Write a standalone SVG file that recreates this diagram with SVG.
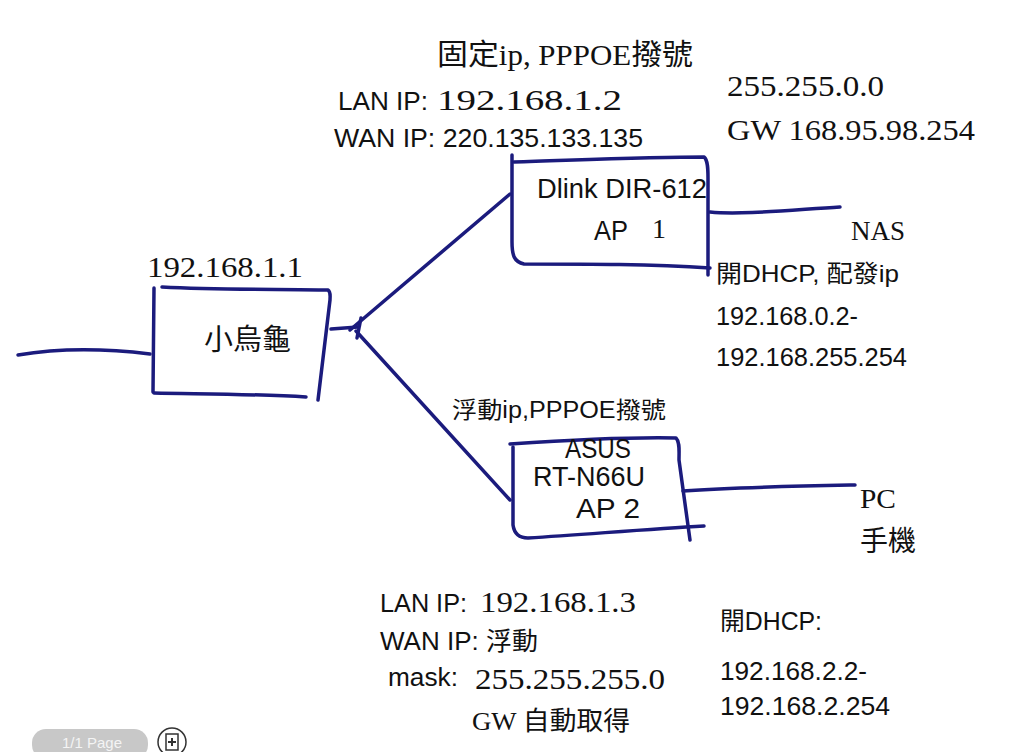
<svg xmlns="http://www.w3.org/2000/svg" width="1024" height="752" viewBox="0 0 1024 752">
<style>
.ink{fill:none;stroke:#1b1b7d;stroke-width:3.5;stroke-linecap:round;stroke-linejoin:round}
.serif{font-family:"Liberation Serif","Noto Sans CJK TC",serif;fill:#111}
.sans{font-family:"Liberation Sans","Noto Sans CJK TC",sans-serif;fill:#111}
.cjk{font-family:"Noto Sans CJK TC",sans-serif;fill:#111}
</style>
<rect width="1024" height="752" fill="#ffffff"/>

<g id="connectors">
<path class="ink" d="M18,355 C60,348 100,348 150,354"/>
<path class="ink" d="M331,329 L358,327"/>
<path class="ink" d="M350,330 L510,194"/>
<path class="ink" d="M356,331 L510,500"/>
<path class="ink" d="M361,318 L357,338"/>
<path class="ink" d="M710,212 C740,215 790,210 840,207"/>
<path class="ink" d="M683,491 C740,487 800,486 855,485"/>
</g>

<g id="router">
<path class="ink" d="M154,288 L153,392"/>
<path class="ink" d="M162,287 C220,290 280,289 328,290 C331,292 330,296 330,300 L318,400"/>
<path class="ink" d="M154,393 C200,394 260,394 306,397"/>
<text class="serif" x="147" y="277" font-size="29" textLength="156" lengthAdjust="spacingAndGlyphs">192.168.1.1</text>
<text class="cjk" x="204" y="350" font-size="29">小烏龜</text>
</g>

<g id="ap1">
<path class="ink" d="M512,155 L512,242 C512,255 514,262 524,264 C590,264 650,264 710,268"/>
<path class="ink" d="M514,162 C580,160 650,157 704,157 C708,160 708,170 708,178 L708,275"/>
<text class="sans" x="537" y="198" font-size="27" textLength="170" lengthAdjust="spacingAndGlyphs">Dlink DIR-612</text>
<text class="sans" x="594" y="240" font-size="27" textLength="34" lengthAdjust="spacingAndGlyphs">AP</text>
<text class="serif" x="652" y="238" font-size="28">1</text>
</g>

<g id="ap2">
<path class="ink" d="M510,444 C570,440 630,437 676,438 C680,442 679,450 679,460 L690,540"/>
<path class="ink" d="M513,447 L513,525 C514,532 518,538 528,538 C590,534 650,529 704,526"/>
<text class="sans" x="565" y="458" font-size="27" textLength="66" lengthAdjust="spacingAndGlyphs">ASUS</text>
<text class="sans" x="533" y="486" font-size="27" textLength="112" lengthAdjust="spacingAndGlyphs">RT-N66U</text>
<text class="sans" x="576" y="518" font-size="27" textLength="64" lengthAdjust="spacingAndGlyphs">AP  2</text>
</g>

<g id="labels">
<text class="serif" x="437" y="65" font-size="29" textLength="256" lengthAdjust="spacingAndGlyphs">固定ip, PPPOE撥號</text>
<text class="sans" x="338" y="110" font-size="26" textLength="90" lengthAdjust="spacingAndGlyphs">LAN IP:</text>
<text class="serif" x="437" y="110" font-size="29" textLength="185" lengthAdjust="spacingAndGlyphs">192.168.1.2</text>
<text class="sans" x="334" y="147" font-size="26" textLength="309" lengthAdjust="spacingAndGlyphs">WAN IP: 220.135.133.135</text>
<text class="serif" x="727" y="96" font-size="29" textLength="157" lengthAdjust="spacingAndGlyphs">255.255.0.0</text>
<text class="serif" x="727" y="140" font-size="29" textLength="248" lengthAdjust="spacingAndGlyphs">GW 168.95.98.254</text>
<text class="serif" x="851" y="240" font-size="28" textLength="54" lengthAdjust="spacingAndGlyphs">NAS</text>
<text class="sans" x="716" y="282" font-size="24" textLength="183" lengthAdjust="spacingAndGlyphs">開DHCP, 配發ip</text>
<text class="sans" x="716" y="325" font-size="26" textLength="142" lengthAdjust="spacingAndGlyphs">192.168.0.2-</text>
<text class="sans" x="716" y="366" font-size="26" textLength="191" lengthAdjust="spacingAndGlyphs">192.168.255.254</text>
<text class="sans" x="452" y="418" font-size="23" textLength="214" lengthAdjust="spacingAndGlyphs">浮動ip,PPPOE撥號</text>
<text class="serif" x="860" y="508" font-size="28" textLength="36" lengthAdjust="spacingAndGlyphs">PC</text>
<text class="cjk" x="860" y="551" font-size="28">手機</text>
<text class="sans" x="380" y="612" font-size="25" textLength="87" lengthAdjust="spacingAndGlyphs">LAN IP:</text>
<text class="serif" x="480" y="612" font-size="29" textLength="156" lengthAdjust="spacingAndGlyphs">192.168.1.3</text>
<text class="sans" x="380" y="650" font-size="25" textLength="158" lengthAdjust="spacingAndGlyphs">WAN IP: 浮動</text>
<text class="sans" x="388" y="686" font-size="25" textLength="70" lengthAdjust="spacingAndGlyphs">mask:</text>
<text class="serif" x="475" y="689" font-size="29" textLength="190" lengthAdjust="spacingAndGlyphs">255.255.255.0</text>
<text class="serif" x="472" y="730" font-size="26" textLength="158" lengthAdjust="spacingAndGlyphs">GW 自動取得</text>
<text class="sans" x="720" y="630" font-size="25" textLength="102" lengthAdjust="spacingAndGlyphs">開DHCP:</text>
<text class="sans" x="720" y="680" font-size="26" textLength="147" lengthAdjust="spacingAndGlyphs">192.168.2.2-</text>
<text class="sans" x="720" y="715" font-size="26" textLength="170" lengthAdjust="spacingAndGlyphs">192.168.2.254</text>
</g>

<g id="pager">
<rect x="32" y="729" width="116" height="30" rx="14" fill="#c8c8c8"/>
<text x="92" y="748" font-family="Liberation Sans, sans-serif" font-size="15" fill="#f4f4f4" text-anchor="middle">1/1 Page</text>
<circle cx="172" cy="742" r="14" fill="#fff" stroke="#333" stroke-width="1.5"/>
<rect x="166" y="734" width="12" height="16" fill="none" stroke="#333" stroke-width="1.5"/>
<path d="M172,738 v8 M168,742 h8" stroke="#333" stroke-width="2"/>
</g>
</svg>
